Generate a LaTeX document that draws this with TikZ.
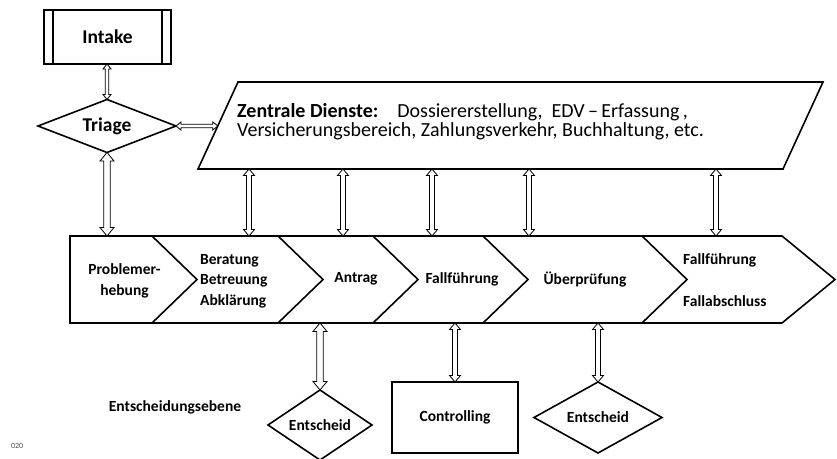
\documentclass[tikz,border=0pt]{standalone}
\usepackage{fontspec}
\setmainfont{Carlito}
\usetikzlibrary{calc}
\begin{document}
\begin{tikzpicture}[x=1pt,y=-1pt,
  outline/.style={draw=black, line width=1.6pt, line join=miter},
  lbl/.style={font=\fontsize{15.5}{20.5}\selectfont\bfseries, inner sep=0pt, align=center},
  lbll/.style={font=\fontsize{15.5}{20.5}\selectfont\bfseries, inner sep=0pt, align=left},
  big/.style={font=\fontsize{19.5}{22}\selectfont\bfseries, inner sep=0pt},
  zd/.style={font=\fontsize{20}{20}\selectfont, inner sep=0pt, anchor=base west},
  harrow/.style={draw=black, fill=white, line width=0.8pt, line join=miter,
    to path={let \p1=(\tikztostart), \p2=(\tikztotarget) in
      (\x1,\y1) -- ({\x1+5pt},{\y1+4pt}) -- ({\x1+5pt},{\y1+1.7pt}) -- ({\x2-5pt},{\y1+1.7pt})
      -- ({\x2-5pt},{\y1+4pt}) -- (\x2,\y1) -- ({\x2-5pt},{\y1-4pt}) -- ({\x2-5pt},{\y1-1.7pt})
      -- ({\x1+5pt},{\y1-1.7pt}) -- ({\x1+5pt},{\y1-4pt}) -- cycle}},
  varrow/.style n args={3}{draw=black, fill=white, line width=0.8pt, line join=miter,
    to path={let \p1=(\tikztostart), \p2=(\tikztotarget) in
      (\x1,\y1) -- ({\x1+#2},{\y1-#3}) -- ({\x1+#1},{\y1-#3}) -- ({\x1+#1},{\y2+#3})
      -- ({\x1+#2},{\y2+#3}) -- (\x1,\y2) -- ({\x1-#2},{\y2+#3}) -- ({\x1-#1},{\y2+#3})
      -- ({\x1-#1},{\y1-#3}) -- ({\x1-#2},{\y1-#3}) -- cycle}},
  thinv/.style={varrow={1.7pt}{4pt}{5pt}},
  midv/.style={varrow={2.5pt}{5.5pt}{6.5pt}},
  widev/.style={varrow={3.3pt}{7pt}{8.5pt}},
]
\useasboundingbox (0,0) rectangle (837,458);

% Intake
\draw[outline] (44,10) rectangle (171,64);
\draw[outline] (53,10) -- (53,64) (162,10) -- (162,64);
\node[big] (intake) at (107.5,37) {Intake};
\coordinate (intakeS) at (107,64);

% Triage
\draw[outline] (38,126) -- (107,99.5) -- (176,126) -- (107,152.5) -- cycle;
\node[big] (triage) at (107,126) {Triage};
\coordinate (triageN) at (107,99.5);
\coordinate (triageS) at (107,152.5);
\coordinate (triageE) at (176,126);

% Zentrale Dienste
\draw[outline] (238,82) -- (823,82) -- (783,169) -- (198,169) -- cycle;
\node[zd] (zd1) at (237,117) {\textbf{Zentrale Dienste:}\hspace{19pt}Dossiererstellung,\hspace{9pt}EDV\,–\,Erfassung\,,};
\node[zd] (zd2) at (237,136.5) {Versicherungsbereich, Zahlungsverkehr, Buchhaltung, etc.};
\coordinate (zdW) at (217.8,126);
\foreach \i/\x in {1/249,2/343,3/432,4/529,5/716}{
  \coordinate (zdS\i) at (\x,169);
  \coordinate (bandN\i) at (\x,236);
}

% Process band
\draw[outline] (70,236) -- (782,236) -- (835,279.5) -- (782,323) -- (70,323) -- cycle;
\foreach \x in {152,278,373,483,642}{
  \draw[outline] (\x,236) -- (\x+45,279.5) -- (\x,323);
}
\coordinate (bandN0) at (107,236);
\coordinate (bandS1) at (320,323);
\coordinate (bandS2) at (455,323);
\coordinate (bandS3) at (598,323);

\node[lbl] (p1) at (124.5,281) {Problemer-\\hebung};
\node[lbll, anchor=west] (p2) at (200,281) {Beratung\\Betreuung\\Abklärung};
\node[lbl] (p3) at (356,279) {Antrag};
\node[lbl] (p4) at (462,279) {Fallführung};
\node[lbl] (p5) at (585,279) {Überprüfung};
\node[lbll, anchor=west] (p6a) at (683,260) {Fallführung};
\node[lbll, anchor=west] (p6b) at (683,301) {Fallabschluss};

% Bottom level
\node[lbl] (ebene) at (175,407) {Entscheidungsebene};
\draw[outline] (268,425) -- (320,390) -- (372,425) -- (320,460) -- cycle;
\node[lbl] (ent1) at (320,425) {Entscheid};
\coordinate (ent1N) at (320,390);
\draw[outline] (392,382) rectangle (518,453);
\node[lbl] (ctrl) at (455,417.5) {Controlling};
\coordinate (ctrlN) at (455,382);
\draw[outline] (534,417.5) -- (598,382) -- (662,417.5) -- (598,453) -- cycle;
\node[lbl] (ent2) at (598,417.5) {Entscheid};
\coordinate (ent2N) at (598,382);

\begin{scope}
\clip (11,430) rectangle (40,458);
\node[font=\fontsize{8}{9}\selectfont, text=black!70, inner sep=0pt, anchor=east] (yr) at (23.5,446) {020};
\end{scope}

% Connectors
\draw[thinv] (intakeS) to (triageN);
\draw[harrow] (triageE) to (zdW);
\draw[widev] (triageS) to (bandN0);
\foreach \i in {1,...,5}{ \draw[midv] (zdS\i) to (bandN\i); }
\draw[widev] (bandS1) to (ent1N);
\draw[midv] (bandS2) to (ctrlN);
\draw[midv] (bandS3) to (ent2N);
\end{tikzpicture}
\end{document}
